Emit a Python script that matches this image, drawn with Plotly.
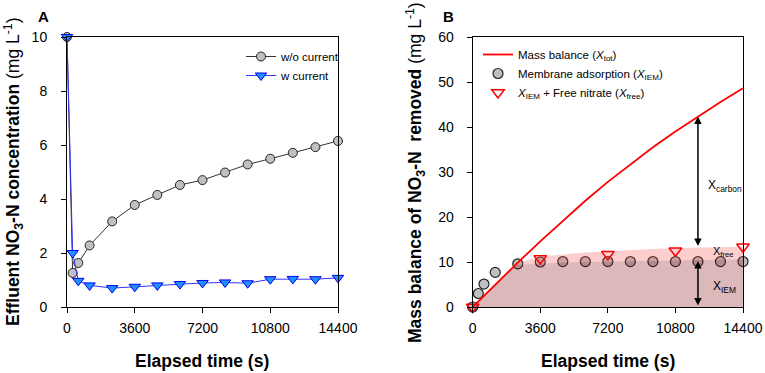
import plotly.graph_objects as go

# ---------------- data ----------------
time_s = [0, 300, 600, 1200, 2400, 3600, 4800, 6000, 7200, 8400, 9600, 10800, 12000, 13200, 14400]

# Panel A: effluent NO3-N concentration (mg/L)
wo_current = [10.0, 1.26, 1.63, 2.28, 3.17, 3.78, 4.15, 4.52, 4.70, 4.98, 5.28, 5.49, 5.71, 5.92, 6.15]
w_current = [10.0, 2.0, 0.97, 0.80, 0.70, 0.75, 0.80, 0.85, 0.89, 0.91, 0.88, 1.03, 1.04, 1.03, 1.08]

# Panel B: mass balance of NO3-N removed (mg/L)
mass_balance = [0, 1.25, 2.5, 4.95, 9.85, 14.6, 19.2, 23.6, 27.8, 31.75, 35.5, 39.0, 42.35, 45.55, 48.6]
membrane_ads = [0, 3.0, 5.1, 7.7, 9.6, 10.0, 10.1, 10.1, 10.1, 10.1, 10.1, 10.1, 10.1, 10.1, 10.1]
time_free = [0, 3600, 7200, 10800, 14400]
iem_free = [0, 10.8, 11.7, 12.5, 13.4]
# shaded band boundaries
iem_band_top = [0, 1.25, 2.5, 4.95, 9.4, 9.7, 9.9, 10.0, 10.1, 10.2, 10.3, 10.4, 10.5, 10.55, 10.6]
free_band_top = [0, 1.25, 2.5, 4.95, 9.85, 11.2, 11.7, 12.1, 12.4, 12.7, 12.9, 13.1, 13.25, 13.35, 13.4]

x_ticks = [0, 3600, 7200, 10800, 14400]
x_tick_labels = ["0", "3600", "7200", "10800", "14400"]
arrow_t = 12000

FONT = "Liberation Sans, Arial, sans-serif"
W, H = 765, 373

fig = go.Figure()

# ---------- Panel A ----------
fig.add_trace(go.Scatter(
    x=time_s, y=wo_current, name="w/o current", mode="lines+markers",
    line=dict(color="#333333", width=1),
    marker=dict(symbol="circle", size=9, color="#c0c0c0", line=dict(color="#222222", width=1)),
    xaxis="x", yaxis="y", legend="legend", legendrank=1, cliponaxis=False))
fig.add_trace(go.Scatter(
    x=time_s, y=w_current, name="w current", mode="lines+markers",
    line=dict(color="#3333ff", width=1),
    marker=dict(symbol="triangle-down", size=10, color="#1e90ff", line=dict(color="#0000ee", width=1)),
    xaxis="x", yaxis="y", legend="legend", legendrank=2, cliponaxis=False))

# ---------- Panel B ----------
fig.add_trace(go.Scatter(
    x=time_s, y=membrane_ads, name="Membrane adsorption (<i>X</i><sub>IEM</sub>)", mode="markers",
    marker=dict(symbol="circle", size=10, color="#c0c0c0", line=dict(color="#222222", width=1.2)),
    xaxis="x2", yaxis="y2", legend="legend2", legendrank=2, cliponaxis=False))
fig.add_trace(go.Scatter(
    x=time_s, y=iem_band_top, mode="lines", line=dict(width=0), fill="tozeroy",
    fillcolor="rgba(140,20,30,0.30)", showlegend=False, hoverinfo="skip",
    xaxis="x2", yaxis="y2"))
fig.add_trace(go.Scatter(
    x=time_s, y=free_band_top, mode="lines", line=dict(width=0), fill="tonexty",
    fillcolor="rgba(245,80,80,0.28)", showlegend=False, hoverinfo="skip",
    xaxis="x2", yaxis="y2"))
fig.add_trace(go.Scatter(
    x=time_s, y=mass_balance, name="Mass balance (<i>X</i><sub>tot</sub>)", mode="lines",
    line=dict(color="#ff0000", width=1.8),
    xaxis="x2", yaxis="y2", legend="legend2", legendrank=1))
fig.add_trace(go.Scatter(
    x=time_free, y=iem_free, name="<i>X</i><sub>IEM</sub> + Free nitrate (<i>X</i><sub>free</sub>)",
    mode="markers",
    marker=dict(symbol="triangle-down-open", size=11, color="#ff0000", line=dict(width=1.5)),
    xaxis="x2", yaxis="y2", legend="legend2", legendrank=3, cliponaxis=False))

ia = time_s.index(arrow_t)

axis_common = dict(
    showline=True, linecolor="black", linewidth=1, mirror=True,
    ticks="outside", ticklen=5, tickcolor="black", tickwidth=1,
    showgrid=False, zeroline=False, automargin=False,
    tickfont=dict(family=FONT, size=14, color="black"),
)

xA = (67 / W, 338 / W)
xB = (472.7 / W, 743 / W)
yD = (1 - 307 / H, 1 - 37 / H)

fig.update_layout(
    template="none",
    width=W, height=H, autosize=False,
    margin=dict(l=0, r=0, t=0, b=0, pad=0),
    paper_bgcolor="white", plot_bgcolor="white",
    font=dict(family=FONT, color="black"),
    xaxis=dict(domain=xA, range=[0, 14400], tickvals=x_ticks, ticktext=x_tick_labels,
               anchor="y", ticklabelstandoff=3, **axis_common),
    yaxis=dict(domain=yD, range=[0, 10], tickvals=[0, 2, 4, 6, 8, 10], anchor="x",
               ticklabelstandoff=11, **axis_common),
    xaxis2=dict(domain=xB, range=[0, 14400], tickvals=x_ticks, ticktext=x_tick_labels,
                anchor="y2", ticklabelstandoff=3, **axis_common),
    yaxis2=dict(domain=yD, range=[0, 60], tickvals=[0, 10, 20, 30, 40, 50, 60], anchor="x2",
                ticklabelstandoff=10, **axis_common),
    legend=dict(x=241 / W, y=1 - 42 / H, xanchor="left", yanchor="top",
                bgcolor="rgba(0,0,0,0)", font=dict(family=FONT, size=11.5),
                tracegroupgap=0, itemwidth=30, traceorder="normal"),
    legend2=dict(x=478 / W, y=1 - 40 / H, xanchor="left", yanchor="top",
                 bgcolor="rgba(0,0,0,0)", font=dict(family=FONT, size=11.5),
                 tracegroupgap=0, itemwidth=30, traceorder="normal"),
    showlegend=True,
)

ann = []
# axis titles
ann.append(dict(text="<b>Effluent NO<sub>3</sub>-N concentration</b> (mg L<sup>-1</sup>)",
                x=13 / W, y=1 - 172 / H, xref="paper", yref="paper", textangle=-90,
                showarrow=False, xanchor="center", yanchor="middle",
                font=dict(family=FONT, size=17.5)))
ann.append(dict(text="<b>Mass balance of NO<sub>3</sub>-N &nbsp;removed</b> (mg L<sup>-1</sup>)",
                x=415 / W, y=1 - 172 / H, xref="paper", yref="paper", textangle=-90,
                showarrow=False, xanchor="center", yanchor="middle",
                font=dict(family=FONT, size=17.5)))
for xc in (202, 608):
    ann.append(dict(text="<b>Elapsed time (s)</b>", x=xc / W, y=1 - 361 / H,
                    xref="paper", yref="paper", showarrow=False,
                    xanchor="center", yanchor="middle", font=dict(family=FONT, size=17.5)))
# panel labels
ann.append(dict(text="<b>A</b>", x=43 / W, y=1 - 16 / H, xref="paper", yref="paper",
                showarrow=False, xanchor="center", yanchor="middle", font=dict(family=FONT, size=15)))
ann.append(dict(text="<b>B</b>", x=448 / W, y=1 - 16 / H, xref="paper", yref="paper",
                showarrow=False, xanchor="center", yanchor="middle", font=dict(family=FONT, size=15)))

# double-headed arrows in panel B
ann.append(dict(x=arrow_t, y=mass_balance[ia], ax=arrow_t, ay=free_band_top[ia],
                xref="x2", yref="y2", axref="x2", ayref="y2",
                showarrow=True, arrowhead=2, startarrowhead=2, arrowside="end+start",
                arrowsize=1, arrowwidth=1.5, arrowcolor="black", text=""))
ann.append(dict(x=arrow_t, y=iem_band_top[ia] - 0.3, ax=arrow_t, ay=0,
                xref="x2", yref="y2", axref="x2", ayref="y2",
                showarrow=True, arrowhead=2, startarrowhead=2, arrowside="end+start",
                arrowsize=1, arrowwidth=1.5, arrowcolor="black", text=""))
ann.append(dict(text="X<sub>carbon</sub>", x=12450, y=26.8, xref="x2", yref="y2",
                showarrow=False, xanchor="left", yanchor="middle", font=dict(family=FONT, size=12)))
ann.append(dict(text="X<sub>free</sub>", x=12700, y=12.2, xref="x2", yref="y2",
                showarrow=False, xanchor="left", yanchor="middle", font=dict(family=FONT, size=11)))
ann.append(dict(text="X<sub>IEM</sub>", x=12700, y=4.5, xref="x2", yref="y2",
                showarrow=False, xanchor="left", yanchor="middle", font=dict(family=FONT, size=12)))

fig.update_layout(annotations=ann)
fig.write_html(
    "out.html",
    config={"responsive": False, "displayModeBar": False},
    post_script=("document.body.style.margin='0px';"
                 "document.body.style.overflow='hidden';"
                 "document.documentElement.style.overflow='hidden';"),
)
